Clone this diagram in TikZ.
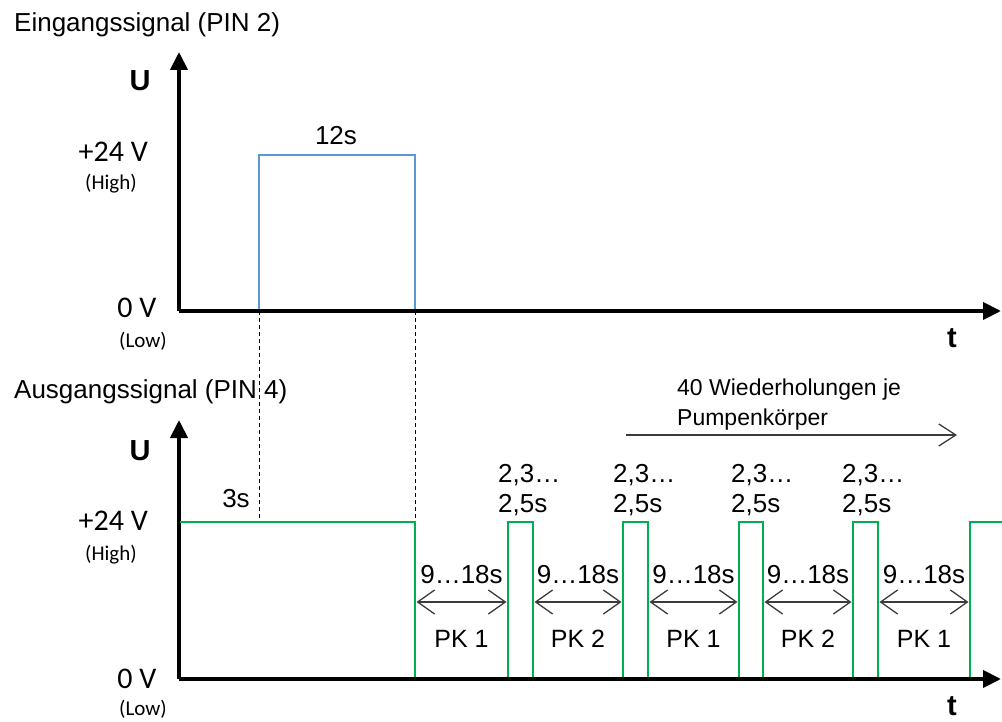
\documentclass[tikz,border=0pt]{standalone}
\usepackage{fontspec}
\setmainfont{Liberation Sans}
\newfontfamily\calfont{Carlito}
\usetikzlibrary{arrows.meta}
\definecolor{sigblue}{RGB}{91,150,214}
\definecolor{siggreen}{RGB}{0,176,80}
\definecolor{dimgray}{RGB}{60,60,60}
\tikzset{
  axis/.style={line width=4pt,-{Triangle[length=18pt,width=17pt]}},
  lbl/.style={inner sep=0pt,anchor=base,font=\fontsize{26}{30}\selectfont},
  pklbl/.style={inner sep=0pt,anchor=base,font=\fontsize{25}{30}\selectfont},
  vlbl/.style={inner sep=0pt,anchor=base,font=\calfont\fontsize{30}{34}\selectfont},
  hlbl/.style={inner sep=0pt,anchor=base,font=\calfont\fontsize{21}{24}\selectfont},
  axlbl/.style={inner sep=0pt,anchor=base,font=\bfseries\fontsize{29}{32}\selectfont},
  insig/.style={sigblue,line width=2.2pt},
  outsig/.style={siggreen,line width=2.5pt},
  guide/.style={black,line width=1pt,dash pattern=on 4pt off 3pt},
  dim/.style={dimgray,line width=1.3pt,{Straight Barb[length=17pt,width=24pt]}-{Straight Barb[length=17pt,width=24pt]}},
  rep/.style={dimgray,line width=1.3pt,-{Straight Barb[length=17pt,width=22pt]}}
}
\begin{document}
\begin{tikzpicture}[x=1pt,y=-1pt]
\useasboundingbox (0,0) rectangle (1002,722);
% ---------- top diagram ----------
\node[lbl,anchor=base west] (t1) at (14,32) {Eingangssignal (PIN 2)};
\coordinate (o1) at (179,311);
\coordinate (ytip1) at (179,52);
\coordinate (xtip1) at (1001,311);
\draw[axis] (o1) -- (ytip1);
\draw[axis] (o1) -- (xtip1);
\node[axlbl] (u1) at (140,91) {U};
\node[axlbl] (tt1) at (952,347) {t};
\node[vlbl,anchor=base east] (h1) at (148,162) {+24 V};
\node[hlbl] (hh1) at (111,190) {(High)};
\node[vlbl] (l1) at (137,318) {0 V};
\node[hlbl] (ll1) at (143,347) {(Low)};
\coordinate (b0) at (259,309.5);
\coordinate (b1) at (259,155);
\coordinate (b2) at (415,155);
\coordinate (b3) at (415,309.5);
\draw[insig] (b0) -- (b1) -- (b2) -- (b3);
\node[lbl] (d12) at (336,145) {12s};
% ---------- bottom diagram ----------
\node[lbl,anchor=base west] (t2) at (14,398) {Ausgangssignal (PIN 4)};
\coordinate (o2) at (179,679);
\coordinate (ytip2) at (179,420);
\coordinate (xtip2) at (1001,679);
\draw[axis] (o2) -- (ytip2);
\draw[axis] (o2) -- (xtip2);
\node[axlbl] (u2) at (140,460) {U};
\node[axlbl] (tt2) at (952,715) {t};
\node[vlbl,anchor=base east] (h2) at (148,530) {+24 V};
\node[hlbl] (hh2) at (111,560) {(High)};
\node[vlbl] (l2) at (137,688) {0 V};
\node[hlbl] (ll2) at (143,715) {(Low)};
% dashed guides
\coordinate (g1a) at (259,311);
\coordinate (g1b) at (259,521);
\coordinate (g2a) at (415,311);
\coordinate (g2b) at (415,521);
\draw[guide] (g1a) -- (g1b);
\draw[guide] (g2a) -- (g2b);
\node[lbl] (d3) at (236,507) {3s};
% output waveform
\def\hi{522}\def\lo{677}
\draw[outsig] (180,\hi) -- (415,\hi) -- (415,\lo)
  (508,\lo) -- (508,\hi) -- (533,\hi) -- (533,\lo)
  (623,\lo) -- (623,\hi) -- (648,\hi) -- (648,\lo)
  (739,\lo) -- (739,\hi) -- (763,\hi) -- (763,\lo)
  (853,\lo) -- (853,\hi) -- (878,\hi) -- (878,\lo)
  (970,\lo) -- (970,\hi) -- (1002,\hi);
% gap dimensions
\foreach \a/\b/\pk [count=\i] in {415/508/1,533/623/2,648/739/1,763/853/2,878/970/1}{
  \coordinate (ga\i) at (\a+1.5,602);
  \coordinate (gb\i) at (\b-1.5,602);
  \draw[dim] (ga\i) -- (gb\i);
  \node[lbl] (gl\i) at ({(\a+\b)/2},583) {9…18s};
  \node[pklbl] (pk\i) at ({(\a+\b)/2},647) {PK \pk};
}
% pulse widths
\foreach \x [count=\i] in {498,613,731,842}{
  \node[lbl,anchor=base west] (pa\i) at (\x,482) {2,3…};
  \node[lbl,anchor=base west] (pb\i) at (\x,512) {2,5s};
}
% repetition note
\node[lbl,anchor=base west,font=\fontsize{23}{28}\selectfont] (r1) at (677,395) {40 Wiederholungen je};
\node[lbl,anchor=base west,font=\fontsize{23}{28}\selectfont] (r2) at (677,425) {Pumpenkörper};
\coordinate (ra) at (626,435);
\coordinate (rb) at (957,435);
\draw[rep] (ra) -- (rb);
\end{tikzpicture}
\end{document}
